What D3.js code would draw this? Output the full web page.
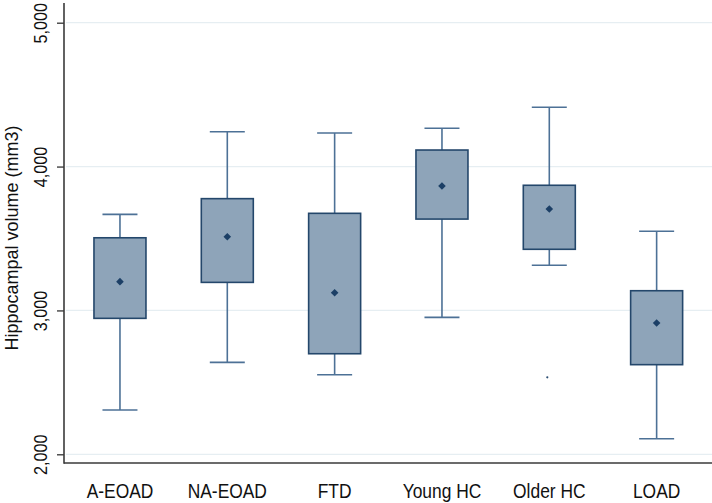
<!DOCTYPE html>
<html>
<head>
<meta charset="utf-8">
<script src="https://cdn.jsdelivr.net/npm/d3@7"></script>
<style>
  html, body { margin: 0; padding: 0; background: #fff; }
  svg { display: block; }
  text { font-family: "Liberation Sans", Arial, sans-serif; fill: #111; }
</style>
</head>
<body>
<svg id="chart" width="712" height="503"></svg>
<script>
const categories = ["A-EOAD", "NA-EOAD", "FTD", "Young HC", "Older HC", "LOAD"];
const upperWhisker = [3668, 4242, 4233, 4266, 4412, 3550];
const q3 = [3505, 3777, 3675, 4115, 3870, 3137];
const means = [3200, 3512, 3123, 3865, 3705, 2913];
const q1 = [2945, 3195, 2699, 3635, 3425, 2623];
const lowerWhisker = [2308, 2639, 2553, 2952, 3314, 2108];
const outliers = [{ cat: "Older HC", value: 2535 }];
const yTicks = [2000, 3000, 4000, 5000];
const yTitle = "Hippocampal volume (mm3)";

const svg = d3.select("#chart");
const axisX = 64, axisBottom = 463, axisTop = 3;

const y = d3.scaleLinear().domain([2000, 5000]).range([454.3, 22.7]);
const x = d3.scaleBand().domain(categories).range([66.3, 710.3]).padding(0);

const boxW = 52, capW = 35;
const data = categories.map((c, i) => ({
  cat: c, hi: upperWhisker[i], q3: q3[i], mean: means[i], q1: q1[i], lo: lowerWhisker[i]
}));

// grid lines
svg.append("g").selectAll("line").data(yTicks).join("line")
  .attr("x1", axisX + 2).attr("x2", 712)
  .attr("y1", d => y(d)).attr("y2", d => y(d))
  .attr("stroke", "#e6eef2").attr("stroke-width", 1.2);

// axes
const yAxis = d3.axisLeft(y).tickValues(yTicks).tickSize(7).tickFormat(d3.format(","));
const gy = svg.append("g").attr("transform", `translate(${axisX},0)`).call(yAxis);
gy.select(".domain").remove();
gy.selectAll(".tick line").attr("stroke", "#333").attr("stroke-width", 1.3);
gy.selectAll(".tick text")
  .attr("x", 0).attr("dy", 0).attr("y", 0)
  .attr("text-anchor", "middle")
  .attr("transform", "translate(-17,0) rotate(-90) scale(0.9,1)")
  .style("font-size", "18px").style("font-family", "Liberation Sans, Arial, sans-serif")
  .attr("fill", "#111");

svg.append("line").attr("x1", axisX).attr("x2", axisX)
  .attr("y1", axisTop).attr("y2", axisBottom + 0.7)
  .attr("stroke", "#3a3a3a").attr("stroke-width", 1.6);
svg.append("line").attr("x1", axisX).attr("x2", 712)
  .attr("y1", axisBottom).attr("y2", axisBottom)
  .attr("stroke", "#3a3a3a").attr("stroke-width", 1.6);

const xAxis = d3.axisBottom(x).tickSize(0);
const gx = svg.append("g").attr("transform", `translate(0,${axisBottom})`).call(xAxis);
gx.select(".domain").remove();
gx.selectAll(".tick text")
  .attr("y", 0).attr("dy", 0)
  .attr("transform", "translate(0,35) scale(0.87,1)")
  .style("font-size", "20px").style("font-family", "Liberation Sans, Arial, sans-serif")
  .attr("fill", "#111");

// y title
svg.append("text")
  .attr("transform", `translate(18,${(126 + 350) / 2}) rotate(-90)`)
  .attr("text-anchor", "middle")
  .style("font-size", "18px")
  .text(yTitle);

const whiskerColor = "#4d7196", boxStroke = "#24476b", boxFill = "#8ea4b9", meanColor = "#1c3f66";

const g = svg.append("g").selectAll("g").data(data).join("g")
  .attr("transform", d => `translate(${x(d.cat) + x.bandwidth() / 2},0)`);

// whiskers
g.append("line").attr("x1", 0).attr("x2", 0)
  .attr("y1", d => y(d.hi)).attr("y2", d => y(d.q3))
  .attr("stroke", whiskerColor).attr("stroke-width", 1.6);
g.append("line").attr("x1", 0).attr("x2", 0)
  .attr("y1", d => y(d.q1)).attr("y2", d => y(d.lo))
  .attr("stroke", whiskerColor).attr("stroke-width", 1.6);
g.append("line").attr("x1", -capW / 2).attr("x2", capW / 2)
  .attr("y1", d => y(d.hi)).attr("y2", d => y(d.hi))
  .attr("stroke", whiskerColor).attr("stroke-width", 1.6);
g.append("line").attr("x1", -capW / 2).attr("x2", capW / 2)
  .attr("y1", d => y(d.lo)).attr("y2", d => y(d.lo))
  .attr("stroke", whiskerColor).attr("stroke-width", 1.6);

// boxes
g.append("rect")
  .attr("x", -boxW / 2).attr("width", boxW)
  .attr("y", d => y(d.q3)).attr("height", d => y(d.q1) - y(d.q3))
  .attr("fill", boxFill).attr("stroke", boxStroke).attr("stroke-width", 1.6);

// means
const dsz = 3.8;
g.append("path")
  .attr("d", `M0,${-dsz}L${dsz},0L0,${dsz}L${-dsz},0Z`)
  .attr("transform", d => `translate(0,${y(d.mean)})`)
  .attr("fill", meanColor);

// outliers
svg.append("g").selectAll("circle").data(outliers).join("circle")
  .attr("cx", d => x(d.cat) + x.bandwidth() / 2 - 2)
  .attr("cy", d => y(d.value))
  .attr("r", 1.1)
  .attr("fill", "#2c4d72");
</script>
</body>
</html>
